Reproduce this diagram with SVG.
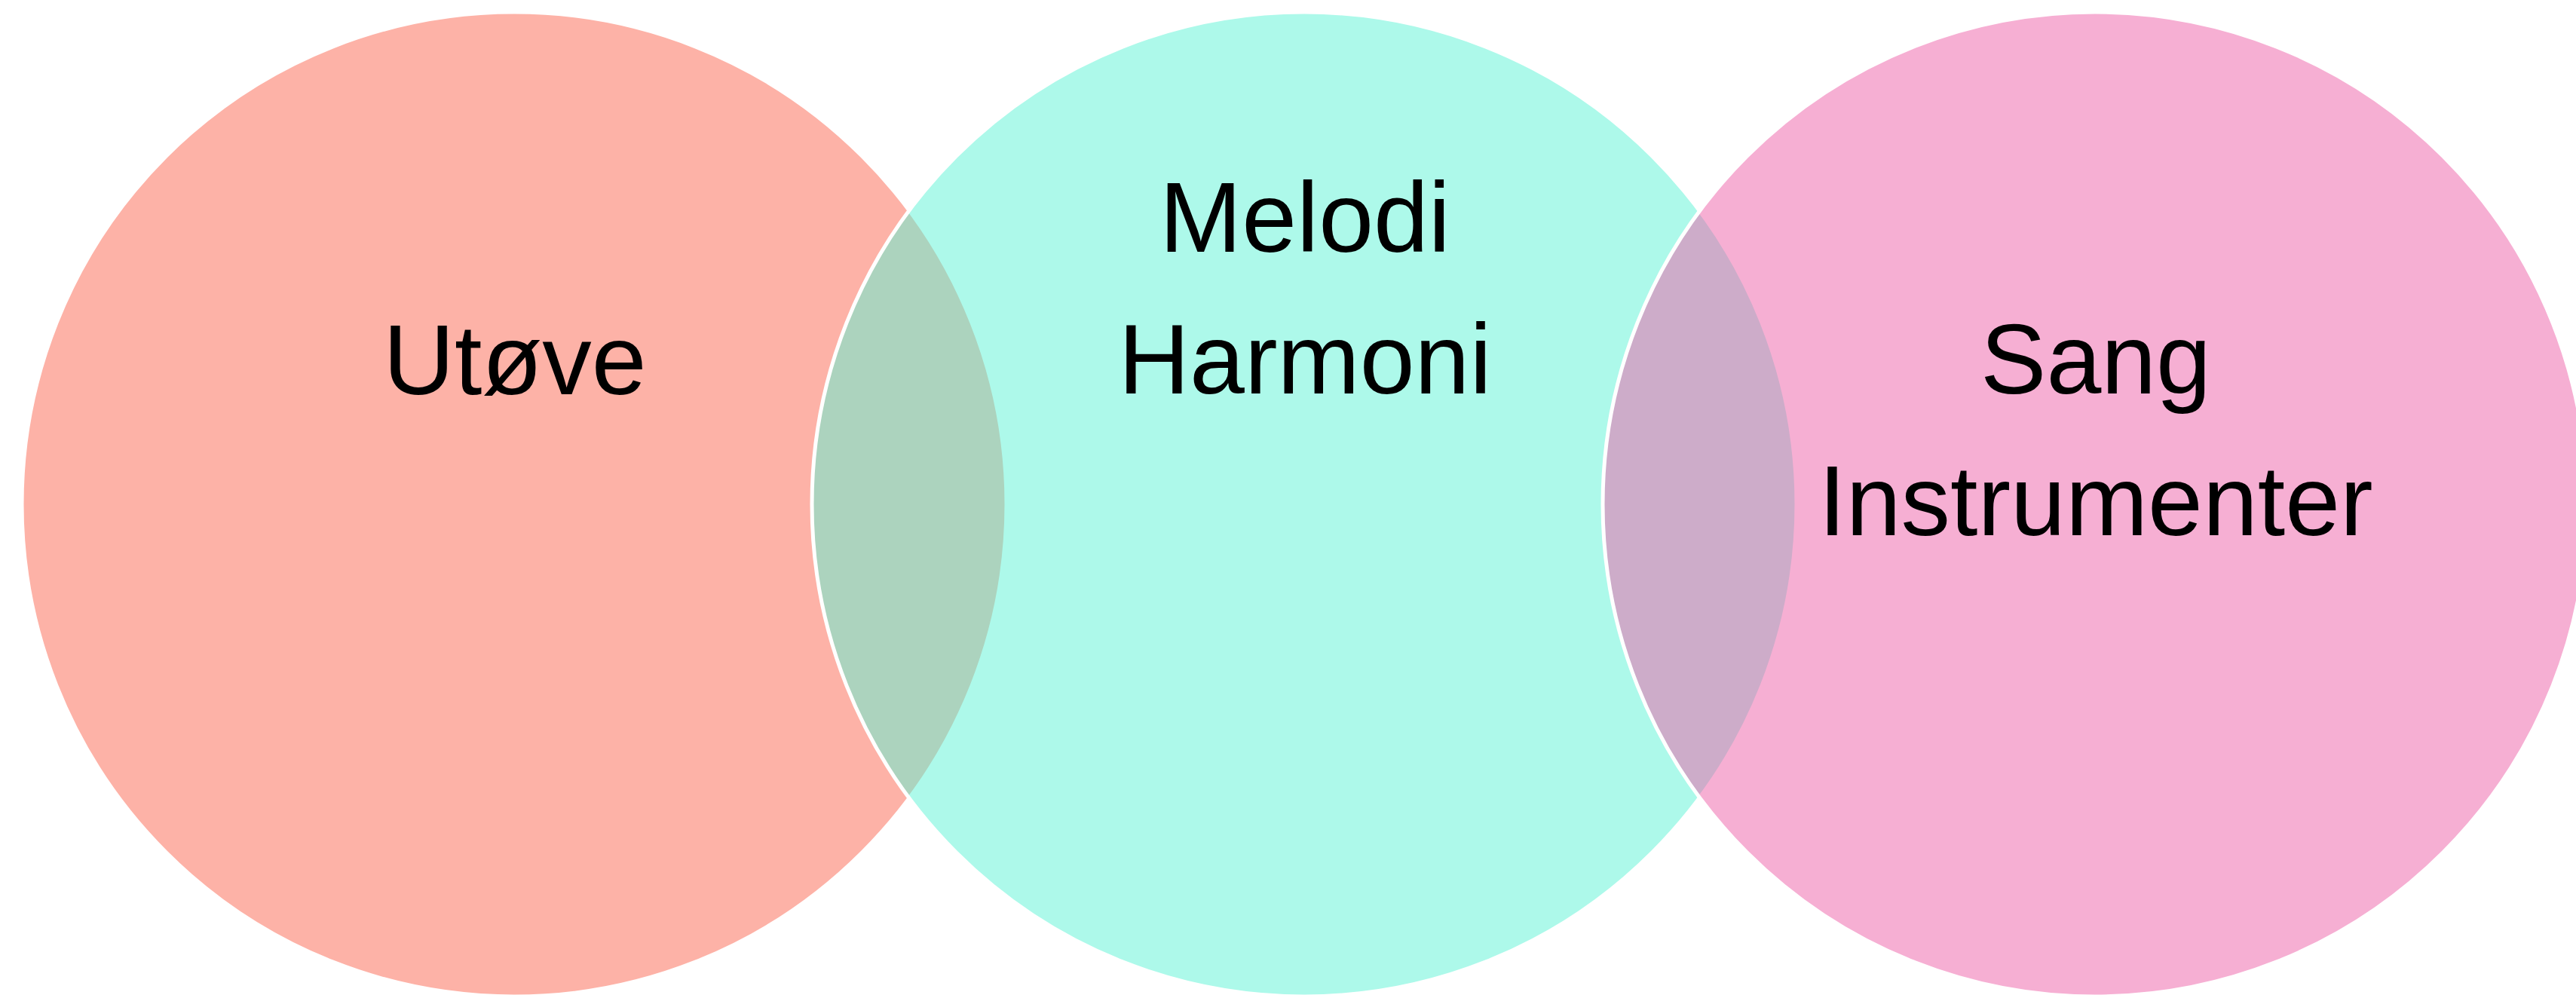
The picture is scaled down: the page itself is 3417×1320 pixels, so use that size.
<svg xmlns="http://www.w3.org/2000/svg" width="3417" height="1320" viewBox="0 0 3417 1320">
<style>
.c{fill-opacity:0.5;stroke:#FFFFFF;stroke-width:5}
.t{font-family:"Liberation Sans",Arial,sans-serif;font-size:131px;fill:#000000;text-anchor:middle}
</style>
<rect width="3417" height="1320" fill="#FFFFFF"/>
<g id="node-utove">
<circle class="c" cx="682" cy="669" r="653" fill="#FB654F"/>
</g>
<g id="node-melodi">
<circle class="c" cx="1730" cy="669" r="653" fill="#5BF3D5"/>
</g>
<g id="node-sang">
<circle class="c" cx="2779" cy="669" r="653" fill="#ED5FA7"/>
</g>
<g id="labels">
<text class="t" x="683" y="523">Utøve</text>
<text class="t" x="1731" y="334">Melodi</text>
<text class="t" x="1731" y="522">Harmoni</text>
<text class="t" x="2780" y="522">Sang</text>
<text class="t" x="2780" y="710">Instrumenter</text>
</g>
<g id="connectors"></g>
</svg>
